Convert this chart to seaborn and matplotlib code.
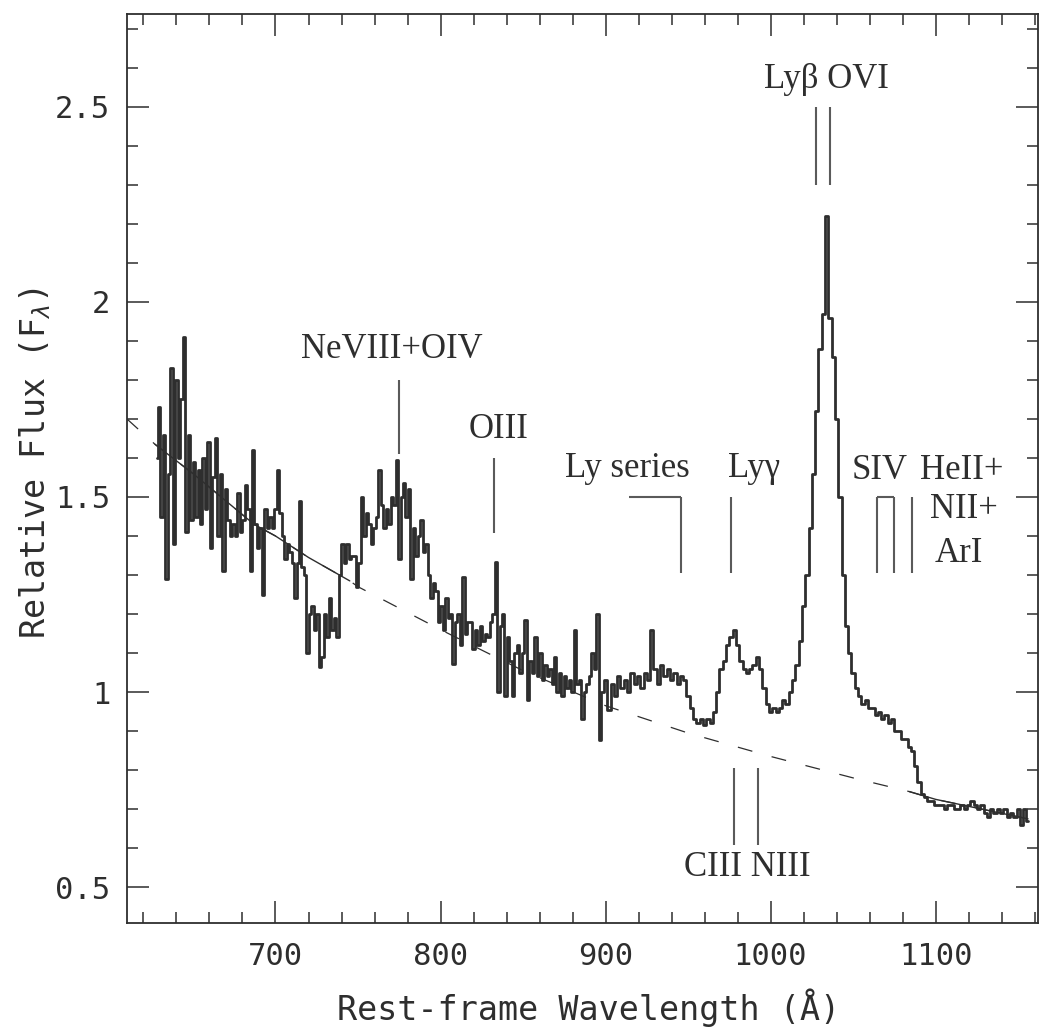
import numpy as np
import pandas as pd
import matplotlib
matplotlib.use("Agg")
import matplotlib.pyplot as plt
import seaborn as sns
from matplotlib.ticker import MultipleLocator, FixedLocator, FixedFormatter

# ---------------------------------------------------------------------------
# Composite spectrum (relative F_lambda) on two rest-frame grids
# blue part: 628 A onwards, 1.5 A bins ; red part: 898 A onwards, 2 A bins
# ---------------------------------------------------------------------------
blue_start, blue_step = 628.0, 1.5
flux_blue = [
    1.60, 1.73, 1.45, 1.66, 1.29, 1.56, 1.83, 1.38, 1.80, 1.60,   # 628
    1.75, 1.91, 1.41, 1.66, 1.44, 1.59, 1.45, 1.57, 1.43, 1.60,   # 643
    1.47, 1.64, 1.37, 1.55, 1.65, 1.40, 1.56, 1.31, 1.52, 1.44,   # 658
    1.40, 1.43, 1.40, 1.51, 1.41, 1.44, 1.53, 1.47, 1.31, 1.62,   # 673
    1.43, 1.37, 1.42, 1.25, 1.47, 1.42, 1.45, 1.42, 1.47, 1.57,   # 688
    1.46, 1.40, 1.34, 1.38, 1.36, 1.33, 1.24, 1.33, 1.49, 1.32,   # 703
    1.30, 1.10, 1.20, 1.22, 1.16, 1.20, 1.065, 1.09, 1.20, 1.14,  # 718
    1.24, 1.16, 1.19, 1.14, 1.30, 1.38, 1.33, 1.38, 1.34, 1.35,   # 733
    1.35, 1.27, 1.33, 1.50, 1.40, 1.46, 1.43, 1.38, 1.42, 1.45,   # 748
    1.57, 1.48, 1.42, 1.47, 1.43, 1.50, 1.48, 1.595, 1.34, 1.50,  # 763
    1.535, 1.45, 1.52, 1.29, 1.42, 1.35, 1.40, 1.44, 1.36, 1.38,  # 778
    1.30, 1.24, 1.28, 1.26, 1.18, 1.22, 1.16, 1.24, 1.19, 1.20,   # 793
    1.073, 1.18, 1.20, 1.12, 1.296, 1.15, 1.18, 1.18, 1.11, 1.16, # 808
    1.12, 1.17, 1.13, 1.15, 1.14, 1.18, 1.20, 1.334, 1.00, 1.17,  # 823
    1.20, 0.99, 1.14, 1.08, 0.99, 1.10, 1.12, 1.05, 1.10, 1.185,  # 838
    0.98, 1.08, 1.05, 1.14, 1.04, 1.10, 1.03, 1.07, 1.04, 1.06,   # 853
    1.02, 1.09, 1.00, 1.05, 0.99, 1.04, 1.01, 1.03, 1.00, 1.16,   # 868
    1.02, 1.03, 0.93, 1.00, 1.02, 1.04, 1.10, 1.06, 1.20, 0.877,  # 883
]
red_start, red_step = 898.0, 2.0
flux_red = [
    1.00, 1.03, 0.955, 1.02, 0.99, 1.04, 1.01, 1.03, 1.00, 1.05,  # 898
    1.02, 1.04, 1.01, 1.05, 1.03, 1.16, 1.06, 1.02, 1.07, 1.04,   # 918
    1.06, 1.03, 1.05, 1.02, 1.04, 1.03, 0.99, 0.96, 0.93, 0.92,   # 938
    0.93, 0.915, 0.93, 0.92, 0.95, 1.00, 1.06, 1.08, 1.12, 1.14,  # 958
    1.16, 1.12, 1.08, 1.06, 1.05, 1.06, 1.07, 1.09, 1.06, 1.01,   # 978
    0.97, 0.95, 0.96, 0.95, 0.96, 0.98, 0.97, 1.00, 1.03, 1.07,   # 998
    1.13, 1.22, 1.30, 1.42, 1.56, 1.72, 1.88, 1.97, 2.22, 1.96,   # 1018
    1.86, 1.70, 1.50, 1.30, 1.17, 1.10, 1.05, 1.01, 0.99, 0.97,   # 1038
    0.98, 0.96, 0.96, 0.94, 0.95, 0.93, 0.94, 0.92, 0.93, 0.90,   # 1058
    0.90, 0.88, 0.88, 0.86, 0.85, 0.81, 0.77, 0.74, 0.73, 0.72,   # 1078
    0.72, 0.71, 0.71, 0.71, 0.70, 0.71, 0.71, 0.70, 0.70, 0.71,   # 1098
    0.70, 0.71, 0.72, 0.71, 0.70, 0.71, 0.69, 0.68, 0.70, 0.69,   # 1118
    0.70, 0.69, 0.70, 0.68, 0.69, 0.68, 0.70, 0.66, 0.70, 0.67,   # 1138
]

# Power-law continuum (solid inside the fitting windows, dashed elsewhere)
cont_wave = [610, 627, 650, 687, 700, 720, 745, 750, 800, 850, 900, 950,
             1000, 1050, 1084, 1100, 1156]
cont_flux = [1.70, 1.635, 1.56, 1.43, 1.40, 1.345, 1.285, 1.27, 1.16, 1.055,
             0.965, 0.895, 0.835, 0.78, 0.745, 0.725, 0.675]
fit_windows = [(627, 745), (1084, 1156)]

# Emission-line identifications
label_text = ["NeVIII+OIV", "OIII", "Ly series", "Lyγ", "Lyβ OVI",
              "SIV", "HeII+", "NII+", "ArI", "CIII NIII"]
label_wave = [770.6, 835.0, 913.5, 990.0, 1034.0,
              1066.0, 1116.0, 1117.0, 1114.0, 986.0]
label_flux = [1.877, 1.672, 1.574, 1.574, 2.57,
              1.569, 1.569, 1.467, 1.356, 0.551]

tick_wave = [774.7, 832.3, 945.8, 975.8, 1027.5, 1036.0,
             1064.6, 1074.7, 1085.5, 977.8, 992.3]
tick_low = [1.61, 1.408, 1.305, 1.305, 2.30, 2.30,
            1.305, 1.305, 1.305, 0.608, 0.608]
tick_high = [1.80, 1.60, 1.50, 1.50, 2.50, 2.50,
             1.50, 1.50, 1.50, 0.805, 0.805]
bracket_y = [1.50, 1.50]
bracket_x0 = [914.0, 1064.6]
bracket_x1 = [945.8, 1074.7]

x_major = [700, 800, 900, 1000, 1100]
y_major = [0.5, 1.0, 1.5, 2.0, 2.5]
y_major_text = ["0.5", "1", "1.5", "2", "2.5"]

# ---------------------------------------------------------------------------
sns.set_theme(style="ticks")
plt.rcParams["font.family"] = ["DejaVu Sans Mono", "DejaVu Sans"]
plt.rcParams["mathtext.fontset"] = "dejavusans"

ink = "#2e2e2e"
mark_ink = "#5a5a5a"

fig = plt.figure(figsize=(10.51, 10.28), dpi=100)
ax = fig.add_axes([0.1208, 0.1021, 0.8668, 0.8843])

wave_blue = blue_start + blue_step * np.arange(len(flux_blue))
wave_red = red_start + red_step * np.arange(len(flux_red))
spec = pd.DataFrame({
    "wave": np.concatenate([wave_blue, wave_red]),
    "flux": np.array(flux_blue + flux_red),
})

cont = pd.DataFrame({"wave": cont_wave, "flux": cont_flux})
ax.plot(cont["wave"], cont["flux"], color=ink, lw=0.9,
        linestyle=(0, (12, 16)), zorder=2)
for lo, hi in fit_windows:
    seg = cont[(cont["wave"] >= lo) & (cont["wave"] <= hi)]
    sns.lineplot(data=seg, x="wave", y="flux", ax=ax, estimator=None,
                 sort=False, color=ink, lw=1.0, zorder=2)

sns.lineplot(data=spec, x="wave", y="flux", ax=ax, estimator=None,
             sort=False, drawstyle="steps-mid", color=ink, lw=2.0, zorder=3)

# line identifications
ax.vlines(tick_wave, tick_low, tick_high, color=mark_ink, lw=1.5, zorder=4)
ax.hlines(bracket_y, bracket_x0, bracket_x1, color=mark_ink, lw=1.5, zorder=4)
for txt, xw, yf in zip(label_text, label_wave, label_flux):
    ax.text(xw, yf, txt, ha="center", va="center", fontsize=25,
            family=["Liberation Serif", "DejaVu Serif"], color=ink, zorder=5)

ax.set_xlim(610, 1162)
ax.set_ylim(0.408, 2.738)

ax.xaxis.set_major_locator(FixedLocator(x_major))
ax.xaxis.set_minor_locator(MultipleLocator(20))
ax.yaxis.set_major_locator(FixedLocator(y_major))
ax.yaxis.set_major_formatter(FixedFormatter(y_major_text))
ax.yaxis.set_minor_locator(MultipleLocator(0.1))

ax.tick_params(which="both", direction="in", top=True, right=True,
               colors=ink, width=1.1, labelsize=22)
ax.tick_params(which="major", length=16)
ax.tick_params(which="minor", length=8)
ax.tick_params(axis="x", pad=14)
ax.tick_params(axis="y", pad=12)
for s in ax.spines.values():
    s.set_linewidth(1.3)
    s.set_color(ink)

ax.set_xlabel("Rest-frame Wavelength (Å)", fontsize=24, color=ink)
ax.set_ylabel(r"Relative Flux (F$_\lambda$)", fontsize=24, color=ink)
ax.xaxis.set_label_coords(0.507, -0.0935)
ax.yaxis.set_label_coords(-0.101, 0.506)
ax.xaxis.label.set_va("center")
ax.yaxis.label.set_va("center")

fig.savefig("out.png", dpi=100, facecolor="white")
